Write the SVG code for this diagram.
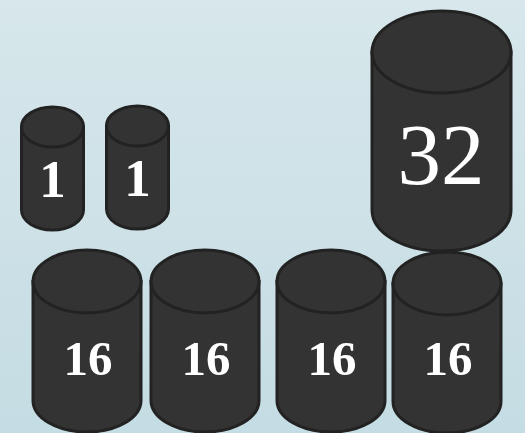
<svg xmlns="http://www.w3.org/2000/svg" width="525" height="433" viewBox="0 0 525 433">
<defs>
<linearGradient id="bg" x1="0" y1="0" x2="0" y2="1">
<stop offset="0" stop-color="#d7e7eb"/>
<stop offset="1" stop-color="#c4dce3"/>
</linearGradient>
</defs>
<style>
.body{fill:#333333;stroke:#222222;stroke-width:3}
.lid{fill:#333333;stroke:#222222;stroke-width:3}
.lb{fill:#ffffff;font-family:"Liberation Serif",serif;text-anchor:middle;font-weight:bold}
.ln{fill:#ffffff;font-family:"Liberation Serif",serif;text-anchor:middle}
</style>
<rect width="525" height="433" fill="url(#bg)"/>
<g id="node-1a">
<path class="body" d="M21.5,127 L21.5,210 A31,20 0 0 0 83.5,210 L83.5,127 Z"/>
<ellipse class="lid" cx="52.5" cy="127" rx="31" ry="20"/>
<text class="lb" x="52.5" y="197" font-size="53">1</text>
</g>
<g id="node-1b">
<path class="body" d="M106.5,126 L106.5,209 A31,20 0 0 0 168.5,209 L168.5,126 Z"/>
<ellipse class="lid" cx="137.5" cy="126" rx="31" ry="20"/>
<text class="lb" x="137.5" y="196" font-size="53">1</text>
</g>
<g id="node-32">
<path class="body" d="M372,52 L372,210 A69.5,41 0 0 0 511,210 L511,52 Z"/>
<ellipse class="lid" cx="441.5" cy="52" rx="69.5" ry="41"/>
<text class="ln" x="441" y="184" font-size="87">32</text>
</g>
<g id="node-16a">
<path class="body" d="M33,281.5 L33,400.5 A54,31.5 0 0 0 141,400.5 L141,281.5 Z"/>
<ellipse class="lid" cx="87" cy="281.5" rx="54" ry="31.5"/>
<text class="lb" x="88" y="375" font-size="49">16</text>
</g>
<g id="node-16b">
<path class="body" d="M151,281.5 L151,400.5 A54,31.5 0 0 0 259,400.5 L259,281.5 Z"/>
<ellipse class="lid" cx="205" cy="281.5" rx="54" ry="31.5"/>
<text class="lb" x="206" y="375" font-size="49">16</text>
</g>
<g id="node-16c">
<path class="body" d="M277,281.5 L277,400.5 A54,31.5 0 0 0 385,400.5 L385,281.5 Z"/>
<ellipse class="lid" cx="331" cy="281.5" rx="54" ry="31.5"/>
<text class="lb" x="332" y="375" font-size="49">16</text>
</g>
<g id="node-16d">
<path class="body" d="M393,283.5 L393,401.5 A54,31.5 0 0 0 501,401.5 L501,283.5 Z"/>
<ellipse class="lid" cx="447" cy="283.5" rx="54" ry="31.5"/>
<text class="lb" x="448" y="375" font-size="49">16</text>
</g>
<g id="connectors"></g>
</svg>
